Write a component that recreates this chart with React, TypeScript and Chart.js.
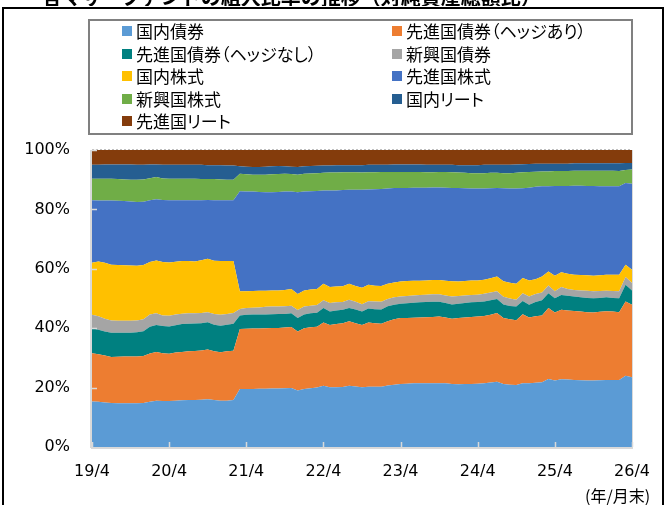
import React, { useEffect, useRef } from "react";
import { Chart, registerables } from "chart.js";

Chart.register(...registerables);

// ---- categories (monthly, 19/4 .. 26/4) ----
const startYear = 19;
const startMonth = 4;
const monthCount = 85;
const categories: string[] = Array.from({ length: monthCount }, (_, i) => {
  const mm = startMonth - 1 + i;
  return `${startYear + Math.floor(mm / 12)}/${(mm % 12) + 1}`;
});
const xTickLabels = ["19/4", "20/4", "21/4", "22/4", "23/4", "24/4", "25/4", "26/4"];
const yTickValues = [0, 20, 40, 60, 80, 100];

// ---- series values (% of net assets) ----
const domesticBond = [
  15.3, 15.2, 15.0, 14.8, 14.7, 14.7, 14.7, 14.7, 14.8, 15.2, 15.6, 15.5, 15.5, 15.6, 15.7, 15.8, 15.8, 15.9, 16.1, 15.8, 15.6, 15.6, 15.8,
  19.5, 19.5, 19.5, 19.6, 19.6, 19.7, 19.7, 19.8, 19.9, 19.0,
  19.5, 19.8, 20.0, 20.6, 20.1, 20.1, 20.2, 20.6, 20.4, 20.1,
  20.3, 20.3, 20.3, 20.7, 21.0, 21.2, 21.3, 21.5, 21.5, 21.5,
  21.5, 21.5, 21.5, 21.2, 21.1, 21.2, 21.2, 21.3, 21.5, 21.7,
  22.0, 21.2, 21.0, 20.9, 21.5, 21.5, 21.6, 21.8, 22.9, 22.4,
  22.8, 22.7, 22.6, 22.5, 22.4, 22.4, 22.5, 22.6, 22.6, 22.6,
  24.0, 23.5,
];
const devBondHedged = [
  16.3, 16.0, 15.8, 15.5, 15.7, 15.8, 15.8, 15.8, 15.8, 16.3, 16.4, 16.1, 15.9, 16.2, 16.3, 16.4, 16.5, 16.6, 16.7, 16.4, 16.3, 16.6, 16.6,
  20.2, 20.3, 20.4, 20.3, 20.4, 20.4, 20.4, 20.4, 20.5, 19.9,
  20.5, 20.5, 20.5, 21.3, 21.0, 21.3, 21.5, 21.7, 21.3, 21.0,
  21.6, 21.4, 21.2, 21.6, 22.0, 22.2, 22.1, 22.0, 22.1, 22.2,
  22.3, 22.4, 22.1, 22.0, 22.3, 22.4, 22.6, 22.6, 22.6, 22.8,
  23.1, 22.2, 22.0, 21.8, 23.2, 22.1, 22.4, 22.5, 23.9, 22.9,
  23.4, 23.3, 23.2, 23.1, 23.0, 22.9, 23.0, 23.1, 23.0, 22.8,
  25.0, 24.4,
];
const devBondUnhedged = [
  8.4, 8.3, 8.1, 8.2, 8.1, 8.0, 8.0, 8.1, 8.4, 9.0, 9.1, 9.1, 9.2, 9.2, 9.4, 9.3, 9.3, 9.2, 9.2, 9.0, 8.9, 9.0, 9.1,
  4.6, 4.7, 4.7, 4.7, 4.6, 4.6, 4.7, 4.6, 4.6, 4.5,
  4.6, 4.7, 4.7, 4.9, 4.5, 4.6, 4.5, 4.5, 4.6, 4.5,
  4.7, 4.7, 4.8, 5.1, 4.9, 4.8, 5.0, 5.1, 5.1, 5.1,
  5.1, 5.0, 4.9, 4.8, 4.8, 4.9, 4.9, 4.9, 4.9, 4.9,
  4.7, 4.6, 4.5, 4.6, 4.5, 4.3, 4.8, 5.1, 5.0, 4.8,
  5.0, 4.9, 4.9, 4.8, 4.8, 4.8, 4.7, 4.7, 4.6, 4.7,
  5.6, 4.8,
];
const emBond = [
  4.5, 4.5, 4.3, 4.1, 4.0, 4.0, 4.0, 4.0, 4.0, 4.1, 3.9, 3.6, 3.6, 3.6, 3.5, 3.5, 3.4, 3.4, 3.4, 3.6, 3.7, 3.6, 3.6,
  2.2, 2.3, 2.3, 2.4, 2.6, 2.6, 2.5, 2.6, 2.6, 2.7,
  2.7, 2.6, 2.6, 2.6, 2.9, 2.7, 2.6, 2.8, 2.6, 2.5,
  2.5, 2.6, 2.6, 2.4, 2.5, 2.5, 2.4, 2.4, 2.5, 2.5,
  2.5, 2.5, 2.5, 2.7, 2.6, 2.5, 2.5, 2.5, 2.6, 2.6,
  2.6, 2.6, 2.5, 2.3, 2.6, 2.8, 2.7, 2.6, 2.6, 2.3,
  2.7, 2.3, 2.2, 2.3, 2.4, 2.3, 2.3, 2.2, 2.3, 2.3,
  2.6, 2.5,
];
const domesticEquity = [
  17.5, 18.5, 18.8, 18.8, 18.8, 18.7, 18.6, 18.4, 18.3, 17.7, 17.8, 18.0, 17.9, 17.8, 17.7, 17.6, 17.5, 17.8, 18.0, 17.9, 18.1, 17.8, 17.5,
  5.9, 5.6, 5.6, 5.6, 5.4, 5.4, 5.4, 5.5, 5.6, 5.4,
  5.4, 5.4, 5.4, 5.6, 5.4, 5.3, 5.3, 5.4, 5.3, 5.5,
  5.5, 5.3, 5.3, 5.2, 5.0, 5.0, 5.1, 5.0, 4.8, 4.8,
  4.8, 4.8, 5.0, 5.1, 4.9, 4.9, 4.9, 4.8, 4.7, 4.8,
  5.0, 5.2, 5.3, 5.4, 5.1, 5.4, 5.0, 5.4, 4.7, 5.3,
  4.9, 5.1, 5.1, 5.2, 5.2, 5.3, 5.3, 5.4, 5.5, 5.6,
  4.2, 4.5,
];
const devEquity = [
  21.1, 20.5, 21.0, 21.6, 21.6, 21.6, 21.6, 21.5, 21.3, 20.8, 20.6, 20.9, 21.0, 20.7, 20.5, 20.5, 20.6, 20.2, 19.8, 20.4, 20.5, 20.5, 20.5,
  33.7, 33.6, 33.5, 33.3, 33.2, 33.1, 33.2, 33.1, 32.8, 34.3,
  33.3, 33.1, 33.0, 31.4, 32.5, 32.4, 32.4, 31.6, 32.4, 33.0,
  32.1, 32.5, 32.7, 32.0, 31.8, 31.5, 31.3, 31.3, 31.3, 31.2,
  31.2, 31.2, 31.3, 31.4, 31.5, 31.2, 30.9, 30.9, 30.7, 30.3,
  29.8, 31.3, 31.7, 32.0, 30.2, 31.2, 31.1, 30.4, 28.7, 30.2,
  29.1, 29.6, 30.0, 30.1, 30.1, 30.2, 30.0, 29.8, 29.8, 29.8,
  27.5, 28.9,
];
const emEquity = [
  7.2, 7.3, 7.3, 7.3, 7.3, 7.3, 7.3, 7.5, 7.5, 7.4, 7.5, 7.2, 7.2, 7.2, 7.2, 7.2, 7.2, 7.1, 7.0, 7.1, 7.0, 6.9, 6.9,
  5.9, 5.8, 5.7, 5.8, 5.9, 6.0, 6.0, 6.0, 5.9, 5.9,
  6.0, 6.0, 6.0, 5.9, 6.0, 6.0, 6.0, 5.9, 5.9, 5.8,
  5.8, 5.7, 5.7, 5.6, 5.4, 5.4, 5.4, 5.3, 5.3, 5.2,
  5.1, 5.2, 5.3, 5.3, 5.2, 5.2, 5.2, 5.2, 5.2, 5.2,
  5.1, 5.1, 5.2, 5.3, 5.4, 5.3, 5.1, 5.0, 5.0, 5.0,
  5.0, 5.0, 5.0, 5.0, 5.1, 5.1, 5.2, 5.2, 5.2, 5.1,
  4.4, 4.8,
];
const domesticReit = [
  4.7, 4.7, 4.8, 4.8, 4.9, 5.0, 5.1, 5.0, 4.9, 4.6, 4.2, 4.6, 4.7, 4.7, 4.7, 4.7, 4.7, 4.8, 4.7, 4.7, 4.8, 4.8, 4.8,
  2.5, 2.6, 2.6, 2.6, 2.7, 2.7, 2.7, 2.5, 2.5, 2.6,
  2.5, 2.5, 2.5, 2.5, 2.4, 2.5, 2.4, 2.4, 2.4, 2.5,
  2.5, 2.5, 2.4, 2.4, 2.5, 2.5, 2.5, 2.5, 2.5, 2.5,
  2.5, 2.4, 2.4, 2.5, 2.5, 2.6, 2.7, 2.7, 2.8, 2.7,
  2.7, 2.8, 2.8, 2.8, 2.7, 2.7, 2.7, 2.6, 2.6, 2.5,
  2.5, 2.5, 2.5, 2.5, 2.5, 2.5, 2.5, 2.5, 2.5, 2.6,
  2.3, 2.2,
];
const devReit = [
  5.0, 5.0, 4.9, 4.9, 4.9, 4.9, 4.9, 5.0, 5.0, 4.9, 4.9, 5.0, 5.0, 5.0, 5.0, 5.0, 5.0, 5.0, 5.1, 5.1, 5.1, 5.2, 5.2,
  5.5, 5.6, 5.7, 5.7, 5.6, 5.5, 5.4, 5.5, 5.6, 5.7,
  5.5, 5.4, 5.3, 5.2, 5.2, 5.1, 5.1, 5.1, 5.1, 5.1,
  5.0, 5.0, 5.0, 5.0, 4.9, 4.9, 4.9, 4.9, 4.9, 5.0,
  5.0, 5.0, 5.0, 5.0, 5.1, 5.1, 5.1, 5.1, 5.0, 5.0,
  5.0, 5.0, 5.0, 4.9, 4.8, 4.7, 4.6, 4.6, 4.6, 4.6,
  4.6, 4.6, 4.5, 4.5, 4.5, 4.5, 4.5, 4.5, 4.5, 4.5,
  4.4, 4.4,
];

const seriesNames = [
  "国内債券",
  "先進国債券（ヘッジあり）",
  "先進国債券（ヘッジなし）",
  "新興国債券",
  "国内株式",
  "先進国株式",
  "新興国株式",
  "国内リート",
  "先進国リート",
];
const seriesColors = ["#5B9BD5", "#ED7D31", "#008080", "#A5A5A5", "#FFC000", "#4472C4", "#70AD47", "#255E91", "#843C0C"];
const seriesValues = [domesticBond, devBondHedged, devBondUnhedged, emBond, domesticEquity, devEquity, emEquity, domesticReit, devReit];

// legend grid order (row by row, two columns)
const legendOrder = [0, 1, 2, 3, 4, 5, 6, 7, 8];

const titleText = "・各マザーファンドの組入比率の推移（対純資産総額比）";
const unitText = "(年/月末)";

const axisDecor = {
  id: "axisDecor",
  afterDatasetsDraw(chart: any) {
    const { ctx, chartArea, scales } = chart;
    const { left, right, top, bottom } = chartArea;
    const x = scales.x;
    const y = scales.y;
    ctx.save();
    ctx.strokeStyle = "#BFBFBF";
    ctx.lineWidth = 1;
    ctx.setLineDash([2, 2]);
    ctx.beginPath();
    ctx.moveTo(left, top - 0.5);
    ctx.lineTo(right, top - 0.5);
    ctx.stroke();
    ctx.setLineDash([]);
    ctx.strokeStyle = "#D9D9D9";
    ctx.beginPath();
    ctx.moveTo(right + 0.5, top);
    ctx.lineTo(right + 0.5, bottom);
    ctx.stroke();
    ctx.lineWidth = 2;
    ctx.beginPath();
    ctx.moveTo(left - 1, bottom + 1);
    ctx.lineTo(right + 1, bottom + 1);
    ctx.moveTo(left - 1, top);
    ctx.lineTo(left - 1, bottom + 1);
    ctx.stroke();
    ctx.lineWidth = 1.5;
    ctx.beginPath();
    for (let i = 0; i < categories.length; i += 12) {
      const px = Math.round(x.getPixelForValue(i)) + 0.5;
      ctx.moveTo(px, bottom);
      ctx.lineTo(px, bottom - 5);
    }
    for (const v of yTickValues) {
      if (v === 0) continue;
      const py = Math.round(y.getPixelForValue(v)) + 0.5;
      ctx.moveTo(left, py);
      ctx.lineTo(left + 5, py);
    }
    ctx.stroke();
    ctx.restore();
  },
};

export default function App() {
  const canvasRef = useRef<HTMLCanvasElement | null>(null);

  useEffect(() => {
    if (!canvasRef.current) return;
    const chart = new Chart(canvasRef.current, {
      type: "line",
      data: {
        labels: categories,
        datasets: seriesValues.map((vals, i) => ({
          label: seriesNames[i],
          data: vals,
          backgroundColor: seriesColors[i],
          borderColor: seriesColors[i],
          borderWidth: 0,
          pointRadius: 0,
          pointHoverRadius: 0,
          tension: 0,
          fill: i === 0 ? "origin" : "-1",
        })),
      },
      options: {
        responsive: false,
        animation: false,
        layout: { padding: { left: 0, right: 35, top: 150, bottom: 0 } },
        plugins: { legend: { display: false }, tooltip: { enabled: false }, title: { display: false } },
        scales: {
          x: {
            type: "category",
            offset: false,
            grid: { display: false, drawTicks: false },
            border: { display: false },
            ticks: {
              autoSkip: false,
              maxRotation: 0,
              minRotation: 0,
              padding: 15,
              color: "#000",
              font: { family: "'DejaVu Sans'", size: 16 },
              callback: (_v: any, idx: number) => (idx % 12 === 0 ? xTickLabels[idx / 12] : ""),
            },
            afterFit: (s: any) => {
              s.height = 58;
            },
          },
          y: {
            stacked: true,
            min: 0,
            max: 100,
            grid: { display: false, drawTicks: false },
            border: { display: false },
            ticks: {
              stepSize: 20,
              padding: 22,
              color: "#000",
              font: { family: "'DejaVu Sans'", size: 16 },
              callback: (v: any) => `${v}%`,
            },
            afterFit: (s: any) => {
              s.width = 92;
            },
          },
        },
      },
      plugins: [axisDecor],
    });
    return () => chart.destroy();
  }, []);

  const legendFont = "'Noto Sans CJK JP', 'Noto Sans', sans-serif";

  return (
    <div
      style={{
        position: "absolute",
        left: 0,
        top: 0,
        width: 667,
        height: 505,
        overflow: "hidden",
        background: "#fff",
      }}
    >
      <canvas ref={canvasRef} width={667} height={505} style={{ position: "absolute", left: 0, top: 0 }} />
      {/* clipped title */}
      <div style={{ position: "absolute", left: 0, top: 0, width: 667, height: 6, overflow: "hidden" }}>
        <div
          style={{
            position: "absolute",
            left: 22,
            top: -13,
            whiteSpace: "nowrap",
            fontFamily: legendFont,
            fontWeight: 700,
            fontSize: 20,
            lineHeight: "20px",
            color: "#000",
          }}
        >
          {titleText}
        </div>
      </div>
      {/* outer frame */}
      <div
        style={{
          position: "absolute",
          left: 2,
          top: 7,
          width: 658,
          height: 520,
          border: "2px solid #000",
          pointerEvents: "none",
        }}
      />
      {/* legend box */}
      <div
        style={{
          position: "absolute",
          left: 88,
          top: 19,
          width: 541,
          height: 112,
          border: "2px solid #808080",
          background: "#fff",
        }}
      />
      {legendOrder.map((si, k) => {
        const col = k % 2;
        const row = Math.floor(k / 2);
        const cy = 31 + row * 22.5;
        const sx = col === 0 ? 122 : 392;
        return (
          <React.Fragment key={si}>
            <div
              style={{
                position: "absolute",
                left: sx,
                top: cy - 5,
                width: 10,
                height: 10,
                background: seriesColors[si],
              }}
            />
            <div
              style={{
                position: "absolute",
                left: sx + 14,
                top: cy - 12,
                height: 24,
                lineHeight: "24px",
                whiteSpace: "nowrap",
                fontFamily: legendFont,
                fontFeatureSettings: '"palt"',
                fontSize: 17,
                color: "#000",
              }}
            >
              {seriesNames[si]}
            </div>
          </React.Fragment>
        );
      })}
      <div
        style={{
          position: "absolute",
          left: 585,
          top: 485,
          whiteSpace: "nowrap",
          fontFamily: legendFont,
          fontSize: 16,
          lineHeight: "20px",
          color: "#000",
        }}
      >
        {unitText}
      </div>
    </div>
  );
}
